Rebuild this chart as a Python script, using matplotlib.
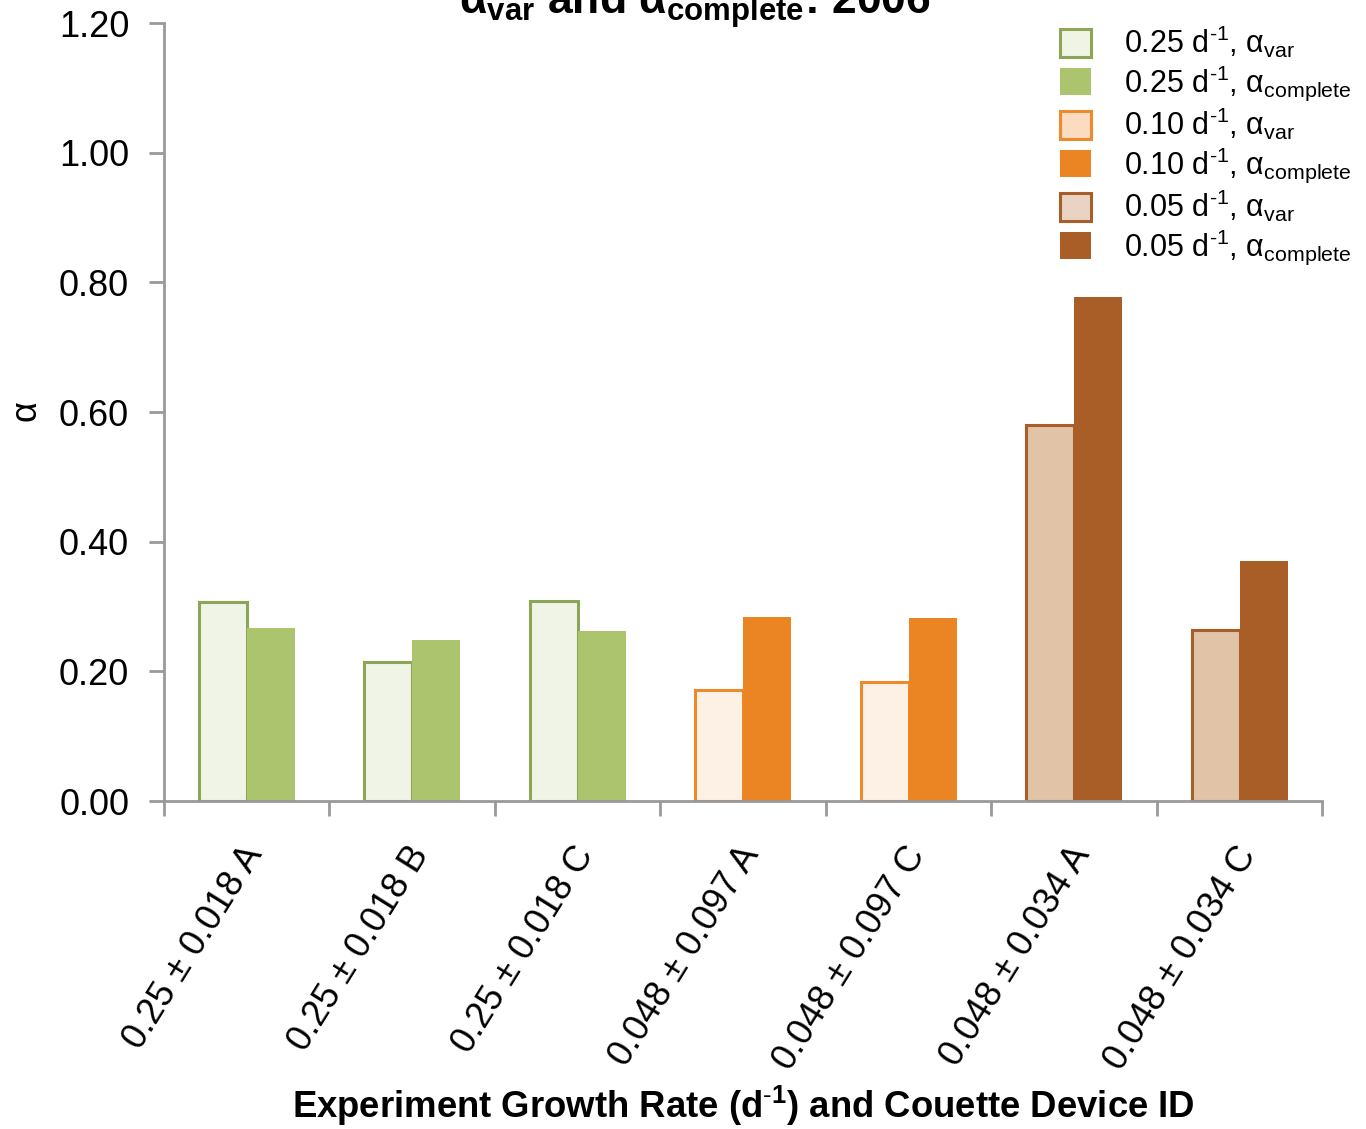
import matplotlib
matplotlib.use("Agg")
import matplotlib.pyplot as plt
from matplotlib.patches import Patch
import matplotlib.transforms as mtransforms
import numpy as np

plt.rcParams["font.family"] = ["Liberation Sans", "DejaVu Sans"]
plt.rcParams["mathtext.fontset"] = "custom"
plt.rcParams["mathtext.rm"] = "Liberation Sans"
plt.rcParams["mathtext.it"] = "Liberation Sans"
plt.rcParams["mathtext.bf"] = "Liberation Sans:bold"

# Experiments: growth rate (d^-1) and Couette device ID
categories = ["0.25 ± 0.018 A", "0.25 ± 0.018 B", "0.25 ± 0.018 C",
              "0.048 ± 0.097 A", "0.048 ± 0.097 C",
              "0.048 ± 0.034 A", "0.048 ± 0.034 C"]
alpha_var = [0.307, 0.214, 0.308, 0.171, 0.184, 0.580, 0.264]
alpha_complete = [0.267, 0.248, 0.262, 0.284, 0.282, 0.777, 0.370]
rate_group = ["0.25", "0.25", "0.25", "0.10", "0.10", "0.05", "0.05"]
yticks = [0.0, 0.2, 0.4, 0.6, 0.8, 1.0, 1.2]

styles = {
    "0.25": dict(var_fill="#F0F4E6", var_edge="#8DA656", comp="#ACC46D", leg_var="#F0F4E4"),
    "0.10": dict(var_fill="#FDF0E4", var_edge="#EE8A2E", comp="#EB8524", leg_var="#FCDCC0"),
    "0.05": dict(var_fill="#E1C3A8", var_edge="#A85E28", comp="#A85E26", leg_var="#E9D3C3"),
}

fig = plt.figure(figsize=(13.66, 11.29), dpi=100)
ax = fig.add_axes([0.120, 0.2905, 0.848, 0.6891])

x = np.arange(len(categories))
w = 0.29
for i in range(len(categories)):
    s = styles[rate_group[i]]
    ax.bar(x[i] - w / 2, alpha_var[i], width=w, facecolor=s["var_fill"],
           edgecolor=s["var_edge"], linewidth=2.2, zorder=2)
    ax.bar(x[i] + w / 2, alpha_complete[i], width=w, facecolor=s["comp"],
           edgecolor="none", zorder=2)

ax.set_xlim(-0.5, len(categories) - 0.5)
ax.set_ylim(0, 1.2)
ax.set_yticks(yticks)
ax.set_yticklabels([f"{v:.2f}" for v in yticks], fontsize=26)

ax.set_xticks(x)
ax.set_xticks(np.arange(-0.5, len(categories)), minor=True)
ax.tick_params(axis="x", which="major", length=0, pad=28)
ax.tick_params(axis="x", which="minor", length=11, width=2, color="#999999")
ax.tick_params(axis="y", length=11, width=2, color="#999999", pad=14)
ax.set_xticklabels(categories, rotation=58, ha="right", va="top",
                   rotation_mode="anchor", fontsize=26)
offset = mtransforms.ScaledTranslation(-0.06, 0.0, fig.dpi_scale_trans)
for lbl in ax.get_xticklabels():
    lbl.set_transform(lbl.get_transform() + offset)

for side in ["top", "right"]:
    ax.spines[side].set_visible(False)
for side in ["left", "bottom"]:
    ax.spines[side].set_color("#999999")
    ax.spines[side].set_linewidth(2)

fig.text(0.019, 0.636, "α", rotation=90, fontsize=26, ha="center", va="center")
fig.text(0.544, 1 - 1118 / 1129,
         r"Experiment Growth Rate (d$^{\mathbf{\text{-}1}}$) and Couette Device ID",
         fontsize=26.3, fontweight="bold", ha="center", va="baseline")
fig.text(0.509, 1 - 14 / 1129,
         r"α$_{\mathbf{var}}$ and α$_{\mathbf{complete}}$: 2006",
         fontsize=32, fontweight="bold", ha="center", va="baseline")

handles, labels = [], []
for rate in ["0.25", "0.10", "0.05"]:
    s = styles[rate]
    handles.append(Patch(facecolor=s["leg_var"], edgecolor=s["var_edge"], linewidth=2.2))
    labels.append(rate + r" d$^{\text{-}1}$, α$_{\mathrm{var}}$")
    handles.append(Patch(facecolor=s["comp"], edgecolor="none"))
    labels.append(rate + r" d$^{\text{-}1}$, α$_{\mathrm{complete}}$")

fig.legend(handles, labels, loc="upper left", bbox_to_anchor=(1060 / 1366, 1 - 24 / 1129),
           frameon=False, fontsize=22, handlelength=1.0, handleheight=1.0,
           handletextpad=1.1, labelspacing=0.10, borderpad=0, borderaxespad=0)

fig.savefig("out.png", dpi=100)
